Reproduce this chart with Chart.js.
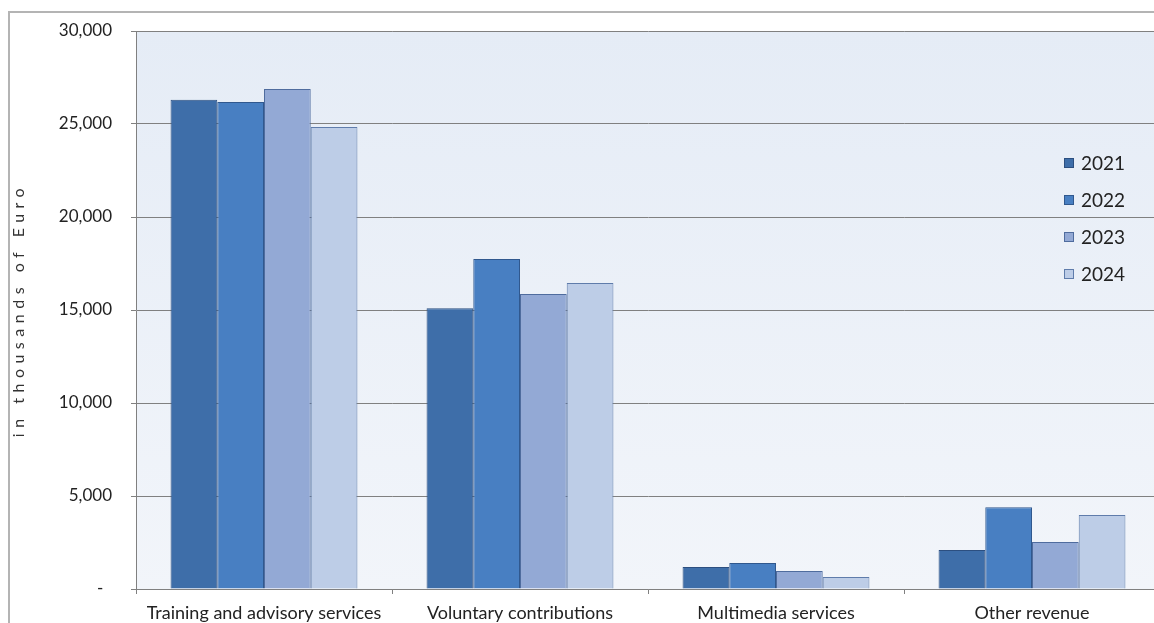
<!DOCTYPE html>
<html>
<head>
<meta charset="utf-8">
<script src="https://cdn.jsdelivr.net/npm/chart.js@4.4.1/dist/chart.umd.min.js"></script>
<style>
  html, body { margin: 0; padding: 0; background: #ffffff; overflow: hidden; width: 1154px; height: 623px; }
  #frame { position: absolute; left: 8px; top: 11px; width: 1200px; height: 700px; border: 2px solid #b4b4b4; box-sizing: border-box; }
  #wrap { position: absolute; left: 0; top: 0; width: 1170px; height: 623px; }
</style>
</head>
<body>
<div id="frame"></div>
<div id="wrap"><canvas id="chart" width="1170" height="623"></canvas></div>
<script>
// Revenue by source, in thousands of Euro
const categories = ['Training and advisory services', 'Voluntary contributions', 'Multimedia services', 'Other revenue'];
const years = ['2021', '2022', '2023', '2024'];
const values2021 = [26300, 15100, 1180, 2100];
const values2022 = [26180, 17740, 1400, 4400];
const values2023 = [26880, 15860, 970, 2530];
const values2024 = [24840, 16450, 650, 3980];
const yTicks = [0, 5000, 10000, 15000, 20000, 25000, 30000];
const axisTitle = 'in thousands of Euro';

const fillColors = ['#3e6ea9', '#487fc2', '#93a9d5', '#bdcde7'];
const edgeColors = ['#2c4f80', '#30588e', '#4f6c9e', '#5f7cab'];
const seriesValues = [values2021, values2022, values2023, values2024];

const FONT = 'Lato, "Open Sans", sans-serif';
const TEXT = '#222222';

// light blue plot background
const plotBackground = {
  id: 'plotBackground',
  beforeDraw(chart) {
    const { ctx, chartArea: a } = chart;
    const g = ctx.createLinearGradient(0, a.top, 0, a.bottom);
    g.addColorStop(0, '#e5ecf6');
    g.addColorStop(1, '#f2f5fa');
    ctx.save();
    ctx.fillStyle = g;
    ctx.fillRect(a.left, a.top, a.right - a.left, a.bottom - a.top);
    ctx.restore();
  }
};

// rotated, letter-spaced y-axis title
const yTitle = {
  id: 'yTitle',
  afterDraw(chart) {
    const { ctx, chartArea: a } = chart;
    ctx.save();
    ctx.translate(19, (a.top + a.bottom) / 2);
    ctx.rotate(-Math.PI / 2);
    ctx.font = '16px ' + FONT;
    ctx.letterSpacing = '5.5px';
    ctx.fillStyle = '#333333';
    ctx.textAlign = 'center';
    ctx.textBaseline = 'middle';
    ctx.fillText(axisTitle, 0, 0);
    ctx.restore();
  }
};

// legend stacked at right inside plot area
const sideLegend = {
  id: 'sideLegend',
  afterDraw(chart) {
    const { ctx } = chart;
    ctx.save();
    ctx.font = '19px ' + FONT;
    ctx.textBaseline = 'middle';
    chart.data.datasets.forEach((ds, i) => {
      const y = 163 + i * 37;
      ctx.fillStyle = ds.backgroundColor;
      ctx.strokeStyle = ds.borderColor;
      ctx.lineWidth = 1;
      ctx.fillRect(1064, y - 5, 10, 10);
      ctx.strokeRect(1064.5, y - 4.5, 9, 9);
      ctx.fillStyle = TEXT;
      ctx.fillText(ds.label, 1081, y + 1);
    });
    ctx.restore();
  }
};

new Chart(document.getElementById('chart'), {
  type: 'bar',
  data: {
    labels: categories,
    datasets: years.map((y, i) => ({
      label: y,
      data: seriesValues[i],
      backgroundColor: fillColors[i],
      borderColor: edgeColors[i],
      borderWidth: 1,
      categoryPercentage: 0.73,
      barPercentage: 1.0
    }))
  },
  options: {
    responsive: false,
    animation: false,
    layout: { padding: { top: 31, right: 10, left: 0, bottom: 0 } },
    plugins: {
      legend: { display: false },
      tooltip: { enabled: false }
    },
    scales: {
      x: {
        grid: { drawOnChartArea: false, drawTicks: true, tickLength: 5, color: '#808080', offset: true },
        border: { color: '#808080', width: 1 },
        ticks: { color: TEXT, font: { size: 18, family: FONT }, padding: 8, maxRotation: 0 },
        afterFit(scale) { scale.height = 34; }
      },
      y: {
        min: 0,
        max: 30000,
        afterBuildTicks(scale) { scale.ticks = yTicks.map(v => ({ value: v })); },
        grid: { color: '#808080', tickLength: 5, drawTicks: true },
        border: { color: '#808080', width: 1 },
        ticks: {
          color: TEXT,
          font: { size: 17, family: FONT },
          padding: 19,
          callback: v => v === 0 ? '-  ' : v.toLocaleString('en-US')
        },
        afterFit(scale) { scale.width = 136; }
      }
    }
  },
  plugins: [plotBackground, yTitle, sideLegend]
});
</script>
</body>
</html>
